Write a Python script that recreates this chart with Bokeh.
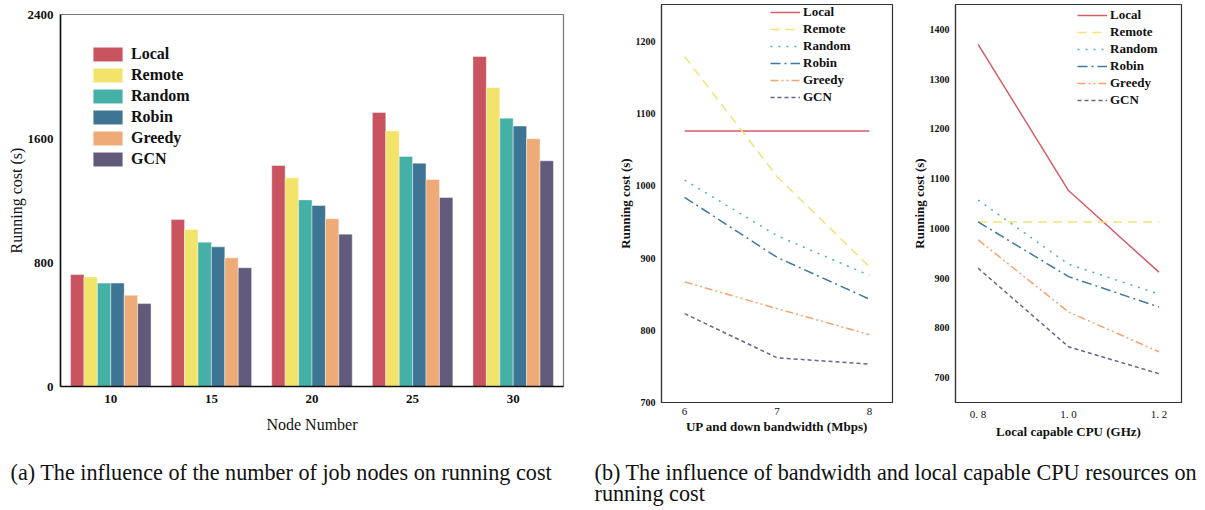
from bokeh.plotting import figure
from bokeh.models import FactorRange, Range1d, FixedTicker, CustomJSTickFormatter
from bokeh.transform import dodge
from bokeh.layouts import column, row
from bokeh.embed import file_html
from bokeh.resources import INLINE
from bokeh.core.properties import value

# ---------------- data ----------------
methods = ["Local", "Remote", "Random", "Robin", "Greedy", "GCN"]

node_numbers = ["10", "15", "20", "25", "30"]
cost_local = [722, 1077, 1426, 1768, 2129]
cost_remote = [707, 1013, 1346, 1649, 1929]
cost_random = [667, 931, 1204, 1484, 1731]
cost_robin = [667, 901, 1168, 1441, 1680]
cost_greedy = [589, 830, 1082, 1335, 1598]
cost_gcn = [535, 766, 983, 1219, 1456]

bandwidth = [6, 7, 8]
bw_local = [1076, 1076, 1076]
bw_remote = [1179, 1013, 888]
bw_random = [1008, 931, 876]
bw_robin = [984, 901, 843]
bw_greedy = [867, 830, 794]
bw_gcn = [823, 762, 753]

cpu = [0.8, 1.0, 1.2]
cpu_local = [1370, 1076, 912]
cpu_remote = [1013, 1013, 1013]
cpu_random = [1057, 928, 868]
cpu_robin = [1013, 903, 842]
cpu_greedy = [977, 832, 752]
cpu_gcn = [920, 762, 708]

caption_a = "(a) The influence of the number of job nodes on running cost"
caption_b1 = "(b) The influence of bandwidth and local capable CPU resources on"
caption_b2 = "running cost"

# ---------------- styles ----------------
SERIF = "Liberation Serif"
bar_colors = ["#C9535F", "#F2E46B", "#44B0A6", "#3F7594", "#EEAA77", "#625A7A"]
line_colors = ["#D45D67", "#F3E27A", "#4BB5AC", "#3F7AA0", "#F4A471", "#6A6390"]
line_dashes = ["solid", "9 6", "2 6", "10 4 2 4", "8 3 2 3 2 3", "4 3"]

TOP_H = 445

# ---------------- panel (a) ----------------
pa = figure(width=608, height=TOP_H, x_range=FactorRange(*node_numbers, range_padding=0),
            y_range=Range1d(0, 2400), output_backend="svg", toolbar_location=None,
            min_border_left=60, min_border_right=45, min_border_top=14,
            min_border_bottom=TOP_H - 386, frame_align=False)

data_a = dict(node=node_numbers, Local=cost_local, Remote=cost_remote, Random=cost_random,
              Robin=cost_robin, Greedy=cost_greedy, GCN=cost_gcn)
bw = 0.8 / 6
for i, m in enumerate(methods):
    off = -0.4 + bw * (i + 0.5)
    pa.vbar(x=dodge("node", off, range=pa.x_range), top=m, width=bw, source=data_a,
            fill_color=bar_colors[i], line_color="white", line_width=0.6, line_alpha=0.7,
            legend_label=m)

pa.xgrid.grid_line_color = None
pa.ygrid.grid_line_color = None
pa.outline_line_color = "#777777"
pa.outline_line_width = 1.2
for ax in (pa.xaxis[0], pa.yaxis[0]):
    ax.axis_line_color = "#111111"
    ax.axis_line_width = 1.6
    ax.major_tick_out = 0
    ax.major_tick_in = 0
    ax.minor_tick_out = 0
    ax.minor_tick_in = 0
    ax.major_label_text_font = SERIF
    ax.major_label_text_font_style = "bold"
    ax.major_label_text_font_size = "13px"
    ax.major_label_text_color = "#111111"
    ax.axis_label_text_font = SERIF
    ax.axis_label_text_font_style = "normal"
    ax.axis_label_text_font_size = "16px"
    ax.axis_label_text_color = "#111111"
pa.yaxis[0].ticker = FixedTicker(ticks=[0, 800, 1600, 2400])
pa.yaxis[0].axis_label = "Running cost (s)"
pa.yaxis[0].major_label_standoff = 7
pa.yaxis[0].axis_label_standoff = 0
pa.xaxis[0].axis_label = "Node Number"
pa.xaxis[0].major_label_standoff = 8
pa.xaxis[0].axis_label_standoff = 10

lg = pa.legend[0]
lg.location = (29, 372 - 31 - 123)
lg.margin = 0
lg.padding = 0
lg.border_line_color = None
lg.background_fill_alpha = 0
lg.glyph_width = 37
lg.glyph_height = 18
lg.label_height = 18
lg.spacing = 3
lg.label_standoff = 5
lg.label_text_font = SERIF
lg.label_text_font_style = "bold"
lg.label_text_font_size = "16px"
lg.label_text_color = "#111111"


# ---------------- panels (b) ----------------
def line_panel(width, left, right, xs, series, xr, yr, yticks, xticks, xlabel, xfmt, leg_xy):
    p = figure(width=width, height=TOP_H, x_range=Range1d(*xr), y_range=Range1d(*yr),
               output_backend="svg", toolbar_location=None,
               min_border_left=left, min_border_right=right, min_border_top=4,
               min_border_bottom=TOP_H - 402, frame_align=False)
    for i, m in enumerate(methods):
        p.line(xs, series[i], line_color=line_colors[i], line_width=1.5,
               line_dash=line_dashes[i], legend_label=m)
    p.xgrid.grid_line_color = None
    p.ygrid.grid_line_color = None
    p.outline_line_color = "#333333"
    p.outline_line_width = 1.2
    for ax in (p.xaxis[0], p.yaxis[0]):
        ax.axis_line_color = "#333333"
        ax.axis_line_width = 1.2
        ax.major_tick_out = 0
        ax.major_tick_in = 0
        ax.minor_tick_out = 0
        ax.minor_tick_in = 0
        ax.major_label_text_font = SERIF
        ax.major_label_text_color = "#111111"
        ax.axis_label_text_font = SERIF
        ax.axis_label_text_font_style = "bold"
        ax.axis_label_text_font_size = "13px"
        ax.axis_label_text_color = "#111111"
    p.yaxis[0].ticker = FixedTicker(ticks=yticks)
    p.yaxis[0].major_label_text_font_style = "bold"
    p.yaxis[0].major_label_text_font_size = "10px"
    p.yaxis[0].major_label_standoff = 6
    p.yaxis[0].axis_label_standoff = 0
    p.yaxis[0].axis_label = "Running cost (s)"
    p.xaxis[0].ticker = FixedTicker(ticks=xticks)
    p.xaxis[0].major_label_text_font_style = "normal"
    p.xaxis[0].major_label_text_font_size = "11px"
    p.xaxis[0].major_label_standoff = 5
    p.xaxis[0].axis_label_standoff = 1
    p.xaxis[0].axis_label = xlabel
    if xfmt:
        p.xaxis[0].formatter = CustomJSTickFormatter(code=xfmt)
    lg = p.legend[0]
    lg.location = leg_xy
    lg.margin = 0
    lg.padding = 0
    lg.border_line_color = None
    lg.background_fill_alpha = 0
    lg.glyph_width = 30
    lg.glyph_height = 16
    lg.label_height = 16
    lg.spacing = 1
    lg.label_standoff = 3
    lg.label_text_font = SERIF
    lg.label_text_font_style = "bold"
    lg.label_text_font_size = "13px"
    lg.label_text_color = "#111111"
    return p


pb1 = line_panel(300, 53, 16, bandwidth,
                 [bw_local, bw_remote, bw_random, bw_robin, bw_greedy, bw_gcn],
                 (5.75, 8.25), (700, 1251), [700, 800, 900, 1000, 1100, 1200], [6, 7, 8],
                 "UP and down bandwidth (Mbps)", None, (109, 398 - 101))
pb2 = line_panel(297, 43, 24, cpu,
                 [cpu_local, cpu_remote, cpu_random, cpu_robin, cpu_greedy, cpu_gcn],
                 (0.75, 1.25), (650, 1450), [700, 800, 900, 1000, 1100, 1200, 1300, 1400],
                 [0.8, 1.0, 1.2], "Local capable CPU (GHz)",
                 "return tick.toFixed(1).replace('.', '. ');", (122, 398 - 101 - 3))

# ---------------- captions ----------------
CAP_H = 510 - TOP_H
pc = figure(width=1205, height=CAP_H, x_range=Range1d(0, 1205), y_range=Range1d(CAP_H, 0),
            output_backend="svg", toolbar_location=None, x_axis_type=None, y_axis_type=None,
            min_border_left=0, min_border_right=0, min_border_top=0, min_border_bottom=0,
            frame_align=False)
pc.outline_line_color = None
pc.xgrid.grid_line_color = None
pc.ygrid.grid_line_color = None
cap_x = [10, 594, 594]
cap_y = [472 - TOP_H, 472 - TOP_H, 493 - TOP_H]
cap_t = [caption_a, caption_b1, caption_b2]
pc.text(x=cap_x, y=cap_y, text=cap_t, text_font=value(SERIF), text_font_size="22.2px",
        text_baseline="alphabetic", text_align="left", text_color="#111111")

layout = column(row(pa, pb1, pb2, spacing=0), pc, spacing=0)
open("out.html", "w").write(file_html(layout, INLINE))
